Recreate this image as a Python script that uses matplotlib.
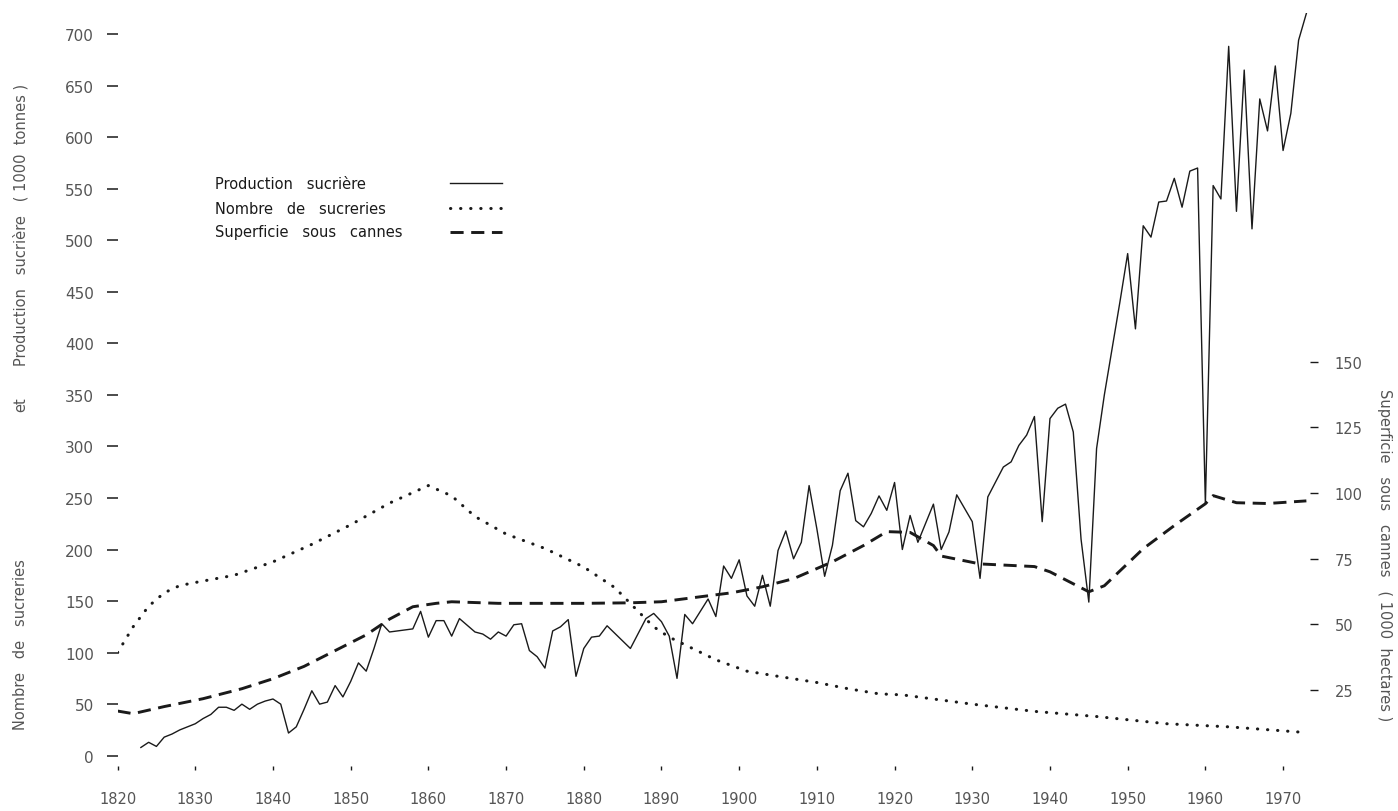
import matplotlib
matplotlib.use("Agg")
import matplotlib.pyplot as plt

# Production sucrière (1000 tonnes)
prod_years = [1823, 1824, 1825, 1826, 1827, 1828, 1829, 1830, 1831, 1832, 1833, 1834, 1835,
              1836, 1837, 1838, 1839, 1840, 1841, 1842, 1843, 1844, 1845, 1846, 1847, 1848,
              1849, 1850, 1851, 1852, 1853, 1854, 1855, 1856, 1857, 1858, 1859, 1860, 1861,
              1862, 1863, 1864, 1866, 1867, 1868, 1869, 1870, 1871, 1872, 1873, 1874, 1875,
              1876, 1877, 1878, 1879, 1880, 1881, 1882, 1883, 1886, 1888, 1889, 1890, 1891,
              1892, 1893, 1894, 1896, 1897, 1898, 1899, 1900, 1901, 1902, 1903, 1904, 1905,
              1906, 1907, 1908, 1909, 1910, 1911, 1912, 1913, 1914, 1915, 1916, 1917, 1918,
              1919, 1920, 1921, 1922, 1923, 1925, 1926, 1927, 1928, 1930, 1931, 1932, 1934,
              1935, 1936, 1937, 1938, 1939, 1940, 1941, 1942, 1943, 1944, 1945, 1946, 1947,
              1948, 1949, 1950, 1951, 1952, 1953, 1954, 1955, 1956, 1957, 1958, 1959, 1960,
              1961, 1962, 1963, 1964, 1965, 1966, 1967, 1968, 1969, 1970, 1971, 1972, 1973]
prod_values = [8, 13, 9, 18, 21, 25, 28, 31, 36, 40, 47, 47, 44,
               50, 45, 50, 53, 55, 50, 22, 28, 45, 63, 50, 52, 68,
               57, 72, 90, 82, 104, 128, 120, 121, 122, 123, 140, 115, 131,
               131, 116, 133, 120, 118, 113, 120, 116, 127, 128, 102, 96, 85,
               121, 125, 132, 77, 104, 115, 116, 126, 104, 133, 138, 130, 116,
               75, 137, 128, 152, 135, 184, 172, 190, 155, 145, 175, 145, 199,
               218, 191, 207, 262, 220, 174, 204, 257, 274, 228, 222, 235, 252,
               238, 265, 200, 233, 207, 244, 200, 217, 253, 227, 172, 251, 280,
               285, 301, 311, 329, 227, 327, 337, 341, 314, 210, 149, 298, 350,
               395, 440, 487, 414, 514, 503, 537, 538, 560, 532, 567, 570, 244,
               553, 540, 688, 528, 665, 511, 637, 606, 669, 587, 623, 694, 720]

# Nombre de sucreries
mill_years = [1820, 1822, 1824, 1826, 1828, 1830, 1835, 1840, 1845, 1850, 1855, 1860,
              1863, 1866, 1870, 1875, 1880, 1884, 1887, 1889, 1891, 1894, 1897, 1901,
              1905, 1910, 1914, 1918, 1921, 1925, 1930, 1938, 1946, 1955, 1963, 1972]
mill_values = [100, 125, 145, 158, 165, 168, 175, 188, 205, 224, 245, 262,
               252, 232, 215, 201, 183, 163, 140, 125, 115, 104, 93, 82,
               77, 71, 65, 60, 59, 55, 50, 43, 38, 31, 28, 23]

# Superficie sous cannes (1000 hectares)
area_years = [1820, 1822, 1826, 1831, 1836, 1840, 1844, 1849, 1852, 1855, 1858, 1861,
              1863, 1869, 1880, 1886, 1890, 1895, 1899, 1903, 1907, 1912, 1916, 1919,
              1922, 1925, 1926, 1931, 1938, 1940, 1945, 1947, 1952, 1956, 1960, 1961,
              1964, 1968, 1973]
area_values = [17, 16, 18.7, 21.7, 25.5, 29.3, 34, 41.5, 46, 52, 56.7, 58,
               58.6, 58, 58, 58.2, 58.6, 60.5, 62, 64.3, 67.4, 73.8, 80, 85.3,
               85, 80, 76, 73, 72, 70, 62.4, 64.7, 78.8, 87.6, 95.9, 99,
               96.3, 96, 97]

left_ticks = list(range(0, 701, 50))
right_ticks = [25, 50, 75, 100, 125, 150]
decades = list(range(1820, 1971, 10))

ink = "#1a1a1a"
faint = "#555555"
dots = (0, (0.1, 3.2))
dashes = (0, (4.5, 2.6))

fig = plt.figure(figsize=(13.98, 8.12), dpi=100)
ax = fig.add_axes([0.0841, 0.0554, 0.8587, 0.9269])

ax.plot(prod_years, prod_values, color=ink, lw=1.0)
ax.plot(mill_years, mill_values, color=ink, lw=2.2, linestyle=dots,
        dash_capstyle="round")

ax.set_xlim(1820, 1974.5)
ax.set_ylim(-10, 720)

# axe de droite : superficie
ax2 = ax.twinx()
ax2.plot(area_years, area_values, color=ink, lw=2.1, linestyle=dashes)
ax2.set_ylim(-10 / 2.548, 720 / 2.548)

for a in (ax, ax2):
    for s in a.spines.values():
        s.set_visible(False)

ax.set_yticks(left_ticks)
ax.set_yticklabels([str(v) for v in left_ticks])
ax.tick_params(axis="y", direction="out", length=8, width=1.1, pad=9,
               labelsize=11, colors=ink, labelcolor=faint)
ax.set_xticks(decades)
ax.set_xticklabels([str(d) for d in decades])
ax.tick_params(axis="x", direction="out", length=3, width=1.0, pad=15,
               labelsize=10.5, colors=ink, labelcolor=faint)

ax2.set_yticks(right_ticks)
ax2.set_yticklabels([str(v) for v in right_ticks])
ax2.tick_params(axis="y", direction="in", length=6, width=1.0, pad=12,
                labelsize=10.5, colors=ink, labelcolor=faint)

# titres des axes
lab = dict(fontsize=10.5, color=faint, rotation=90, ha="center", va="center")
fig.text(0.015, (812 - 645) / 812, "Nombre   de   sucreries", **lab)
fig.text(0.015, (812 - 405) / 812, "et", **lab)
fig.text(0.015, (812 - 225) / 812, "Production   sucrière   ( 1000  tonnes )", **lab)
fig.text(0.990, (812 - 555) / 812, "Superficie   sous   cannes   ( 1000  hectares )",
         fontsize=10.5, color=faint, rotation=270, ha="center", va="center")

# légende
rows = [("Production   sucrière", dict(linestyle="-", lw=1.0)),
        ("Nombre   de   sucreries", dict(linestyle=dots, lw=2.2,
                                         dash_capstyle="round")),
        ("Superficie   sous   cannes", dict(linestyle=dashes, lw=2.1))]
ys = [0.774, 0.741, 0.710]
for (label, style), y in zip(rows, ys):
    ax.text(0.0811, y, label, transform=ax.transAxes, fontsize=10.5,
            color=ink, va="center", ha="left")
    ax.plot([0.277, 0.320], [y, y], transform=ax.transAxes, color=ink, **style)

fig.savefig("out.png", dpi=100)
